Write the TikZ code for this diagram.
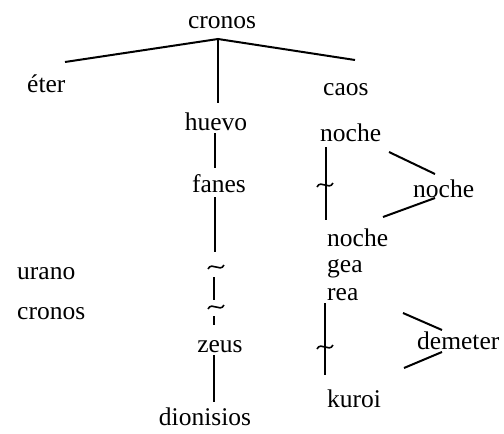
\documentclass[tikz,border=0pt]{standalone}
\usepackage{fontspec}
\setmainfont{Liberation Serif}
\begin{document}
\begin{tikzpicture}[x=1pt,y=-1pt,
  lbl/.style={inner sep=0pt,font=\fontsize{25.5}{30}\selectfont},
  lw/.style={lbl,anchor=mid west},
  lc/.style={lbl,anchor=mid},
  ln/.style={line width=2pt},
  tl/.style={line width=1.6pt}]
\useasboundingbox (0,0) rectangle (504,434);
% labels
\node[lc] (top) at (222,26) {cronos};
\node[lw] (eter) at (27,90) {éter};
\node[lw] (caos) at (323,93) {caos};
\node[lc] (huevo) at (216,128) {huevo};
\node[lw] (noche1) at (320,139) {noche};
\node[lc] (fanes) at (219,190) {fanes};
\node[lw] (noche2) at (413,195) {noche};
\node[lw] (noche3) at (327,244) {noche};
\node[lw] (gea) at (327,270) {gea};
\node[lw] (urano) at (17,277) {urano};
\node[lw] (rea) at (327,298) {rea};
\node[lw] (cronos2) at (17,317) {cronos};
\node[lc] (zeus) at (220,350) {zeus};
\node[lw] (demeter) at (417,347) {demeter};
\node[lw] (kuroi) at (327,405) {kuroi};
\node[lc] (dionisios) at (205,423) {dionisios};
% coordinates for line ends
\coordinate (apex) at (218,39);
\coordinate (eL) at (65,62);
\coordinate (cR) at (355,60);
\coordinate (hT) at (218,103);
\coordinate (h1) at (215,133);
\coordinate (h2) at (215,168);
\coordinate (f1) at (215,197);
\coordinate (f2) at (215,252);
\coordinate (t1) at (216,267);
\coordinate (m1) at (214,277);
\coordinate (m2) at (214,300);
\coordinate (t2) at (216,307);
\coordinate (m3) at (214,316);
\coordinate (m4) at (214,325);
\coordinate (z1) at (214,355);
\coordinate (z2) at (214,402);
\coordinate (n1) at (326,147);
\coordinate (n2) at (326,220);
\coordinate (t3) at (325,185);
\coordinate (d1a) at (389,152);
\coordinate (d1b) at (435,174);
\coordinate (d2a) at (383,217);
\coordinate (d2b) at (435,198);
\coordinate (r1) at (325,303);
\coordinate (r2) at (325,375);
\coordinate (t4) at (325,347);
\coordinate (d3a) at (403,313);
\coordinate (d3b) at (442,330);
\coordinate (d4a) at (404,368);
\coordinate (d4b) at (442,352);
% lines
\draw[ln] (eL) -- (apex) -- (cR);
\draw[ln] (apex) -- (hT);
\draw[ln] (h1) -- (h2);
\draw[ln] (f1) -- (f2);
\draw[ln] (m1) -- (m2);
\draw[ln] (m3) -- (m4);
\draw[ln] (z1) -- (z2);
\draw[ln] (n1) -- (n2);
\draw[ln] (r1) -- (r2);
\draw[ln] (d1a) -- (d1b);
\draw[ln] (d2a) -- (d2b);
\draw[ln] (d3a) -- (d3b);
\draw[ln] (d4a) -- (d4b);
% tildes
\foreach \p in {t1,t2,t3,t4}{
  \draw[tl] ([shift={(-8,2)}]\p) .. controls ([shift={(-4,-6)}]\p) and ([shift={(4,6)}]\p) .. ([shift={(8,-2)}]\p);
}
\end{tikzpicture}
\end{document}
